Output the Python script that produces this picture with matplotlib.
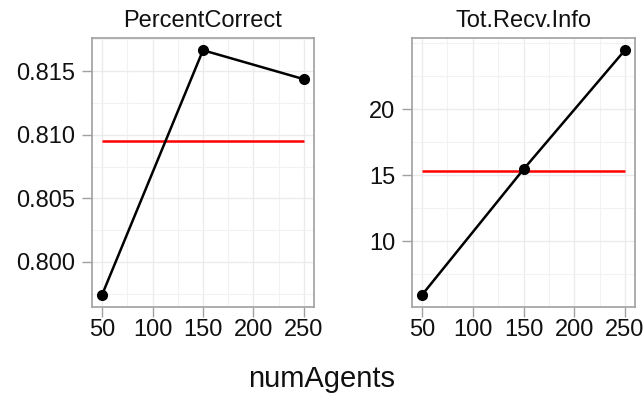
import numpy as np
import matplotlib
matplotlib.use('Agg')
import matplotlib.pyplot as plt
from matplotlib.ticker import MultipleLocator, FixedLocator

plt.rcParams['font.family'] = ['Liberation Sans', 'DejaVu Sans']

num_agents = [50, 150, 250]
percent_correct = [0.79741, 0.81665, 0.81437]
tot_recv_info = [5.95, 15.45, 24.47]
titles = ["PercentCorrect", "Tot.Recv.Info"]
y_breaks = [[0.800, 0.805, 0.810, 0.815], [10, 15, 20]]
y_minor = [[0.7975, 0.8025, 0.8075, 0.8125, 0.8175], [7.5, 12.5, 17.5, 22.5, 25]]

fig = plt.figure(figsize=(6.44, 3.95), dpi=100)
ax1 = fig.add_axes([92/644, 88/395, 222/644, 269/395])
ax2 = fig.add_axes([412/644, 88/395, 223/644, 269/395])

for ax, vals, title, yb, ym in zip([ax1, ax2], [percent_correct, tot_recv_info],
                                   titles, y_breaks, y_minor):
    vals = np.array(vals)
    lo, hi = vals.min(), vals.max()
    pad = (hi - lo) * 0.05
    ax.set_ylim(lo - pad, hi + pad)
    ax.set_xlim(40, 260)
    ax.xaxis.set_major_locator(MultipleLocator(50))
    ax.xaxis.set_minor_locator(MultipleLocator(25))
    ax.yaxis.set_major_locator(FixedLocator(yb))
    ax.yaxis.set_minor_locator(FixedLocator(ym))
    ax.grid(which='major', color='#ebebeb', linewidth=1.0, zorder=0)
    ax.grid(which='minor', color='#f2f2f2', linewidth=0.8, zorder=0)
    ax.set_axisbelow(True)
    for sp in ax.spines.values():
        sp.set_color('#a0a0a0')
        sp.set_linewidth(1.2)
    ax.tick_params(which='major', color='#a0a0a0', length=7, width=1.0,
                   labelsize=17, labelcolor='#111111')
    ax.tick_params(axis='y', pad=5)
    ax.tick_params(axis='x', pad=2)
    ax.tick_params(which='minor', length=0)
    ax.plot(num_agents, vals, color='black', linewidth=1.8, marker='o',
            markersize=7, zorder=3)
    ax.hlines(vals.mean(), num_agents[0], num_agents[-1], color='red',
              linewidth=1.8, zorder=2)
    ax.set_title(title, fontsize=17, color='#111111', pad=8)

ax1.yaxis.set_major_formatter(matplotlib.ticker.FormatStrFormatter('%.3f'))
fig.text(0.5, 0.04, 'numAgents', ha='center', va='center', fontsize=21,
         color='#111111')

fig.savefig('out.png', dpi=100)
